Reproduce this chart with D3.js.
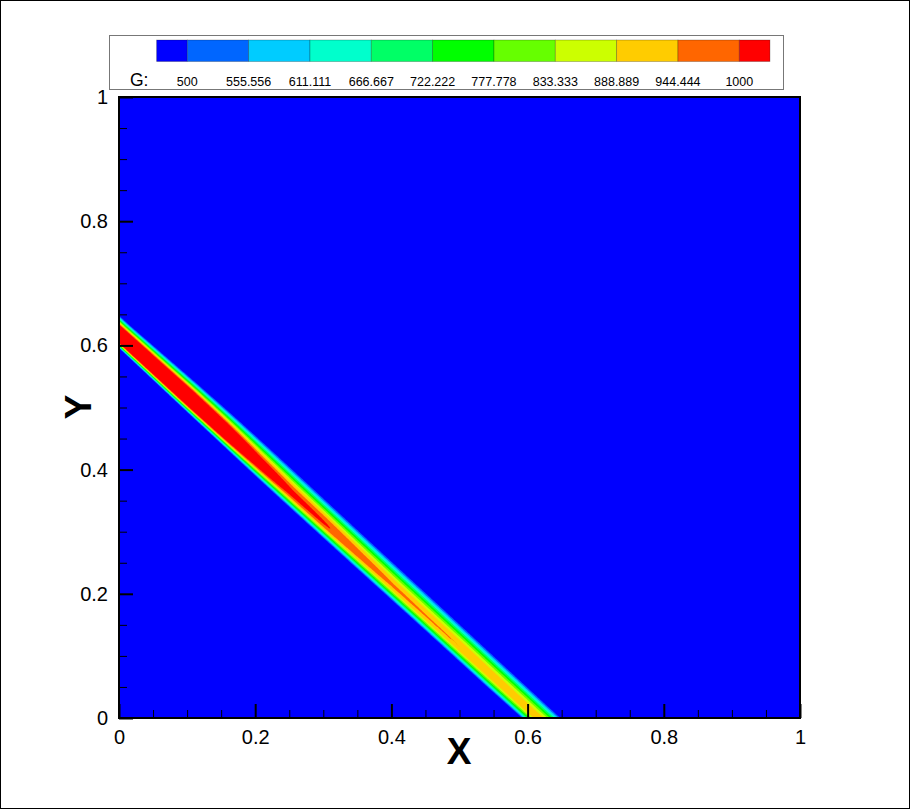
<!DOCTYPE html>
<html>
<head>
<meta charset="utf-8">
<script src="https://cdn.jsdelivr.net/npm/d3@7"></script>
<style>
  body { margin: 0; background: #fff; }
  svg { display: block; font-family: "Liberation Sans", Arial, Helvetica, sans-serif; }
</style>
</head>
<body>
<script>
// ---------------- data ----------------
const levels = [500, 555.556, 611.111, 666.667, 722.222, 777.778, 833.333, 888.889, 944.444, 1000];
const levelLabels = ["500", "555.556", "611.111", "666.667", "722.222", "777.778", "833.333", "888.889", "944.444", "1000"];
const levelColors = ["#0000FF", "#0066FF", "#00CCFF", "#00FFCC", "#00FF66", "#00FF00", "#66FF00", "#CCFF00", "#FFCC00", "#FF6600", "#FF0000"];

// ridge of G along the band x + y = bandOffset (station = x position on the centre line)
const bandOffset = 0.615;
const bandStation    = [0,      0.05,   0.1,    0.15,   0.2,    0.25,   0.3,    0.35,   0.4,    0.45,   0.5,    0.55,   0.615];
const bandPeak       = [1396,   1350,   1325,   1230,   1102,   1026,   1007,   975,    952,    947,    944.8,  935,    930];
const bandWidthUpper = [0.0325, 0.0356, 0.0385, 0.0415, 0.0445, 0.046,  0.0455, 0.0455, 0.0455, 0.045,  0.044,  0.043,  0.042];
const bandWidthLower = [0.0188, 0.0206, 0.0223, 0.0244, 0.0275, 0.0295, 0.0298, 0.0304, 0.0305, 0.030,  0.030,  0.0303, 0.029];
const profileExponent = 2;

const xMajorTicks = [0, 0.2, 0.4, 0.6, 0.8, 1];
const yMajorTicks = [0, 0.2, 0.4, 0.6, 0.8, 1];
const xTickLabels = ["0", "0.2", "0.4", "0.6", "0.8", "1"];
const yTickLabels = ["0", "0.2", "0.4", "0.6", "0.8", "1"];
const minorStep = 0.05;

// ---------------- layout ----------------
const W = 910, H = 809;
const plot = { left: 119, right: 800, top: 97, bottom: 718 };

const svg = d3.select("body").append("svg").attr("width", W).attr("height", H);
svg.append("rect").attr("x", 0.5).attr("y", 0.5).attr("width", W - 1).attr("height", H - 1)
  .attr("fill", "#fff").attr("stroke", "#000").attr("stroke-width", 1);

const x = d3.scaleLinear().domain([0, 1]).range([plot.left, plot.right]);
const y = d3.scaleLinear().domain([0, 1]).range([plot.bottom, plot.top]);

// ---------------- field ----------------
const peakAt = d3.scaleLinear().domain(bandStation).range(bandPeak).clamp(true);
const wUAt = d3.scaleLinear().domain(bandStation).range(bandWidthUpper).clamp(true);
const wLAt = d3.scaleLinear().domain(bandStation).range(bandWidthLower).clamp(true);

const nx = 620, ny = 580;
const gx0 = -0.01, gx1 = 1.01, gy0 = -0.01, gy1 = 1.01;
const values = new Float64Array(nx * ny);
for (let j = 0; j < ny; j++) {
  const yy = gy0 + (j + 0.5) / ny * (gy1 - gy0);
  for (let i = 0; i < nx; i++) {
    const xx = gx0 + (i + 0.5) / nx * (gx1 - gx0);
    const s = xx + yy - bandOffset;
    const t = Math.max(0, Math.min(bandOffset, (xx - yy + bandOffset) / 2));
    const w = s > 0 ? wUAt(t) : wLAt(t);
    const u = Math.abs(s) / w;
    values[j * nx + i] = peakAt(t) * Math.exp(-Math.pow(u, profileExponent));
  }
}
const contours = d3.contours().size([nx, ny]).thresholds(levels)(values);

const proj = d3.geoTransform({
  point: function (px, py) {
    this.stream.point(x(gx0 + px / nx * (gx1 - gx0)), y(gy0 + py / ny * (gy1 - gy0)));
  }
});
const path = d3.geoPath(proj);

svg.append("clipPath").attr("id", "clip").append("rect")
  .attr("x", x(0)).attr("y", y(1)).attr("width", x(1) - x(0)).attr("height", y(0) - y(1));

const g = svg.append("g").attr("clip-path", "url(#clip)");
g.append("rect").attr("x", x(0)).attr("y", y(1)).attr("width", x(1) - x(0)).attr("height", y(0) - y(1))
  .attr("fill", levelColors[0]);
g.selectAll("path.band").data(contours).join("path")
  .attr("class", "band")
  .attr("d", path)
  .attr("fill", (d, i) => levelColors[i + 1])
  .attr("stroke", "none");

// ---------------- axes ----------------
const minorTicks = d3.range(0, 1 + 1e-9, minorStep).filter(v => !xMajorTicks.some(m => Math.abs(m - v) < 1e-9));

const xMinor = svg.append("g").attr("transform", `translate(0,${plot.bottom})`)
  .call(d3.axisBottom(x).tickValues(minorTicks).tickSizeInner(-8).tickSizeOuter(0).tickFormat(""));
const xMajor = svg.append("g").attr("transform", `translate(0,${plot.bottom})`)
  .call(d3.axisBottom(x).tickValues(xMajorTicks).tickSizeInner(-14).tickSizeOuter(0).tickPadding(12)
    .tickFormat((d, i) => xTickLabels[i]));
const yMinor = svg.append("g").attr("transform", `translate(${plot.left},0)`)
  .call(d3.axisLeft(y).tickValues(minorTicks).tickSizeInner(-8).tickSizeOuter(0).tickFormat(""));
const yMajor = svg.append("g").attr("transform", `translate(${plot.left},0)`)
  .call(d3.axisLeft(y).tickValues(yMajorTicks).tickSizeInner(-14).tickSizeOuter(0).tickPadding(11)
    .tickFormat((d, i) => yTickLabels[i]));

[xMinor, xMajor, yMinor, yMajor].forEach(a => a.select(".domain").remove());
[xMinor, yMinor].forEach(a => a.selectAll(".tick line").attr("stroke", "#000").attr("stroke-width", 1));
[xMajor, yMajor].forEach(a => {
  a.selectAll(".tick line").attr("stroke", "#000").attr("stroke-width", 2);
  a.selectAll(".tick text").attr("fill", "#000").style("font-size", "20px")
    .style("font-family", '"Liberation Sans", Arial, sans-serif');
});

svg.append("rect").attr("x", x(0)).attr("y", y(1)).attr("width", x(1) - x(0)).attr("height", y(0) - y(1))
  .attr("fill", "none").attr("stroke", "#000").attr("stroke-width", 2);

// axis titles
svg.append("text").attr("x", 459).attr("y", 764).attr("text-anchor", "middle")
  .style("font-size", "37px").style("font-weight", "bold").text("X");
svg.append("text").attr("transform", "translate(91,407) rotate(-90)").attr("text-anchor", "middle")
  .style("font-size", "37px").style("font-weight", "bold").text("Y");

// ---------------- legend ----------------
const leg = svg.append("g");
leg.append("rect").attr("x", 109.5).attr("y", 35.5).attr("width", 674).attr("height", 54)
  .attr("fill", "#fff").attr("stroke", "#777").attr("stroke-width", 1);

const legX = d3.scaleLinear().domain([0, levels.length - 1]).range([187.3, 739.3]);
const halfStep = (legX(1) - legX(0)) / 2;
const boxEdges = levelColors.map((c, i) => {
  const x0 = i === 0 ? legX(0) - halfStep : legX(i - 1);
  const x1 = i === levelColors.length - 1 ? legX(levels.length - 1) + halfStep : legX(i);
  return { c, x0, x1 };
});
leg.selectAll("rect.box").data(boxEdges).join("rect").attr("class", "box")
  .attr("x", d => d.x0).attr("y", 40).attr("width", d => d.x1 - d.x0).attr("height", 21.5)
  .attr("fill", d => d.c).attr("stroke", "rgba(0,0,0,0.3)").attr("stroke-width", 0.8);
leg.selectAll("text.lab").data(levelLabels).join("text").attr("class", "lab")
  .attr("x", (d, i) => legX(i)).attr("y", 85.5).attr("text-anchor", "middle")
  .style("font-size", "12.5px").text(d => d);
leg.append("text").attr("x", 130).attr("y", 85.5).style("font-size", "17.5px").text("G:");
</script>
</body>
</html>
